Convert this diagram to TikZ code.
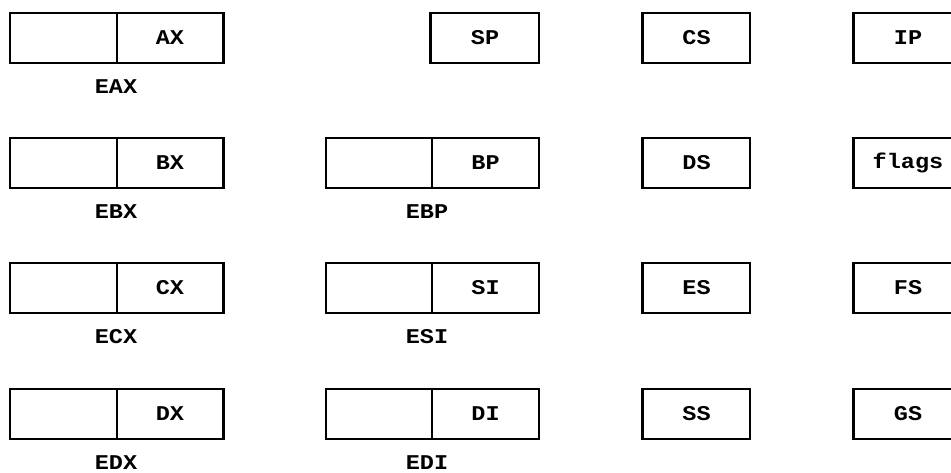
\documentclass[tikz,border=0pt]{standalone}
\usepackage{fontspec}
\newfontfamily\regfnt{Liberation Mono}[FakeStretch=1.12]
\begin{document}
\begin{tikzpicture}[x=1pt,y=-1pt,
  regfont/.style={font=\regfnt\bfseries\fontsize{21}{21}\selectfont},
  half/.style={draw, line width=1.6pt, minimum height=50pt, inner sep=0pt, regfont},
  single/.style={half, minimum width=107pt},
  lbl/.style={inner sep=0pt, anchor=base, regfont}]
\useasboundingbox (0,0) rectangle (951,472);

% general-purpose registers: upper (empty) half and lower 16-bit half
\foreach \r/\y in {A/38, B/163, C/288, D/414}{
  \node[half, minimum width=107pt] (hi\r) at (63.5,\y) {};
  \node[half, minimum width=106pt] (lo\r) at (170,\y) {\r X};
  \draw[line width=3pt] (lo\r.north east) -- (lo\r.south east);
  \node[lbl] (e\r) at (116,\y+55) {E\r X};
}

% stack pointer
\node[single, minimum width=108pt] (sp) at (485,38) {SP};
\draw[line width=2.6pt] (sp.north west) -- (sp.south west);

% base pointer and index registers
\foreach \n/\u/\y in {bp/BP/163, si/SI/288, di/DI/414}{
  \node[half, minimum width=106pt] (hi\n) at (379,\y) {};
  \node[half, minimum width=107pt] (lo\n) at (485.5,\y) {\u};
  \node[lbl] (e\n) at (427,\y+55) {E\u};
}

% segment registers
\foreach \n/\u/\y in {cs/CS/38, ds/DS/163, es/ES/288, ss/SS/414}{
  \node[single] (\n) at (696.5,\y) {\u};
  \draw[line width=2.6pt] (\n.north west) -- (\n.south west);
}

% instruction pointer, flags and extra segment registers
\foreach \n/\u/\y in {ip/IP/38, fl/flags/163, fs/FS/288, gs/GS/414}{
  \node[single, minimum width=108pt] (\n) at (908,\y) {\u};
  \draw[line width=2.6pt] (\n.north west) -- (\n.south west);
}
\end{tikzpicture}
\end{document}
